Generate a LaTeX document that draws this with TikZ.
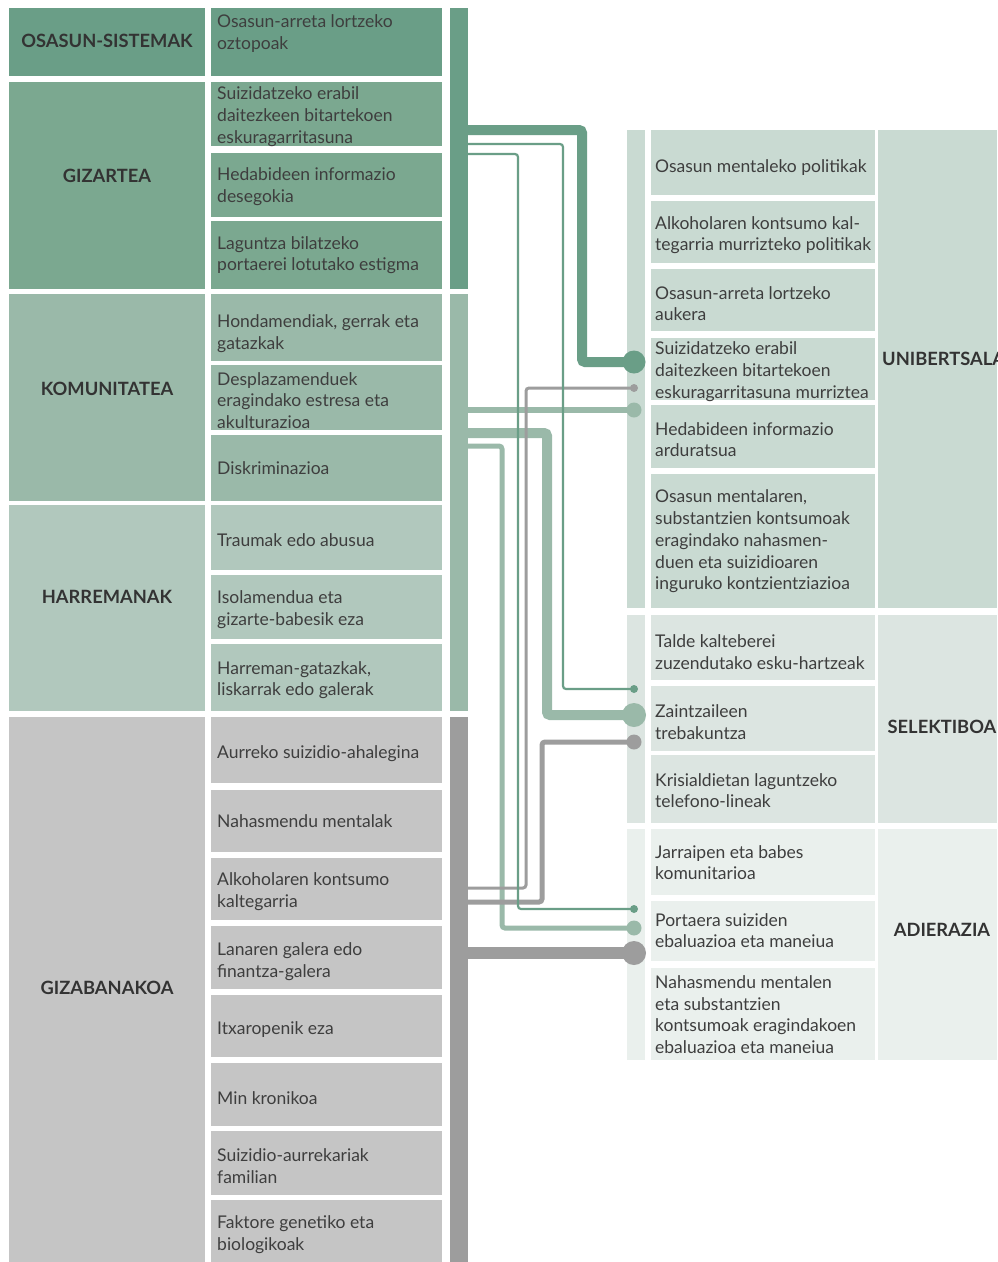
\documentclass[tikz,border=0pt]{standalone}
\usepackage{fontspec}
\setmainfont{Lato}
\definecolor{cA}{HTML}{6A9E87}
\definecolor{cB}{HTML}{7BA890}
\definecolor{cC}{HTML}{9AB9A9}
\definecolor{cD}{HTML}{B1C8BD}
\definecolor{cE}{HTML}{C5C5C5}
\definecolor{cG}{HTML}{9D9D9D}
\definecolor{cU}{HTML}{C9DAD2}
\definecolor{cS}{HTML}{DCE5E1}
\definecolor{cV}{HTML}{EAF0ED}
\definecolor{txt}{HTML}{3E3E3E}
\definecolor{lbl}{HTML}{333333}
\tikzset{
  itemtext/.style={anchor=west, align=left, inner sep=0pt, yshift=-2.5pt, text=txt, font=\fontsize{17.5}{21.7}\selectfont},
  cattext/.style={inner sep=0pt, text=lbl, font=\bfseries\fontsize{18.3}{21}\selectfont},
  dotnode/.style={circle, draw=none, inner sep=0pt},
  conn/.style={draw=#1, rounded corners=3pt},
}
\newcommand\LBox[6]{\fill[#4] (211,#2) rectangle (442,#3); \node[itemtext] (#1) at (217,#5) {#6};}
\newcommand\RBox[6]{\fill[#4] (651,#2) rectangle (875,#3); \node[itemtext] (#1) at (655,#5) {#6};}
\begin{document}
\begin{tikzpicture}[x=1pt,y=-1pt]
\useasboundingbox (0,0) rectangle (997,1262);
\clip (0,0) rectangle (997,1262);
\fill[white] (0,0) rectangle (997,1262);
% ---------- left categories ----------
\fill[cA] (9,8) rectangle (205,76);
\node[cattext] (osa) at (107,41) {OSASUN-SISTEMAK};
\fill[cB] (9,82) rectangle (205,289);
\node[cattext] (giz) at (107,176) {GIZARTEA};
\fill[cC] (9,294) rectangle (205,501);
\node[cattext] (kom) at (107,389) {KOMUNITATEA};
\fill[cD] (9,505) rectangle (205,711);
\node[cattext] (har) at (107,597) {HARREMANAK};
\fill[cE] (9,717) rectangle (205,1262);
\node[cattext] (gzb) at (107,988) {GIZABANAKOA};
% ---------- left items ----------
\LBox{l1}{8}{76}{cA}{31}{Osasun-arreta lortzeko\\oztopoak}
\LBox{l2}{82}{146}{cB}{114}{Suizidatzeko erabil\\daitezkeen bitartekoen\\eskuragarritasuna}
\LBox{l3}{153}{217}{cB}{184}{Hedabideen informazio\\desegokia}
\LBox{l4}{221}{289}{cB}{252.5}{Laguntza bilatzeko\\portaerei lotutako estigma}
\LBox{l5}{294}{361}{cC}{331}{Hondamendiak, gerrak eta\\gatazkak}
\LBox{l6}{365}{430}{cC}{398}{Desplazamenduek\\eragindako estresa eta\\akulturazioa}
\LBox{l7}{435}{501}{cC}{466}{Diskriminazioa}
\LBox{l8}{505}{570}{cD}{538}{Traumak edo abusua}
\LBox{l9}{575}{639}{cD}{607}{Isolamendua eta\\gizarte-babesik eza}
\LBox{l10}{644}{711}{cD}{677.5}{Harreman-gatazkak,\\liskarrak edo galerak}
\LBox{l11}{717}{783}{cE}{751}{Aurreko suizidio-ahalegina}
\LBox{l12}{790}{852}{cE}{819}{Nahasmendu mentalak}
\LBox{l13}{858}{920}{cE}{889}{Alkoholaren kontsumo\\kaltegarria}
\LBox{l14}{926}{989}{cE}{959}{Lanaren galera edo\\finantza-galera}
\LBox{l15}{995}{1057}{cE}{1027}{Itxaropenik eza}
\LBox{l16}{1063}{1126}{cE}{1096}{Min kronikoa}
\LBox{l17}{1131}{1195}{cE}{1163.5}{Suizidio-aurrekariak\\familian}
\LBox{l18}{1200}{1262}{cE}{1232}{Faktore genetiko eta\\biologikoak}
% ---------- left bars ----------
\node[fill=cA, inner sep=0pt, minimum width=18pt, minimum height=281pt] (barA) at (459,148.5) {};
\node[fill=cC, inner sep=0pt, minimum width=18pt, minimum height=417pt] (barB) at (459,502.5) {};
\node[fill=cG, inner sep=0pt, minimum width=18pt, minimum height=545pt] (barC) at (459,989.5) {};
% ---------- right side ----------
\fill[cU] (627,130) rectangle (645,608);
\fill[cS] (627,615) rectangle (645,823);
\fill[cV] (627,829) rectangle (645,1060);
\fill[cU] (878,130) rectangle (997,608);
\fill[cS] (878,615) rectangle (997,823);
\fill[cV] (878,829) rectangle (997,1060);
\RBox{r1}{130}{195}{cU}{165}{Osasun mentaleko politikak}
\RBox{r2}{201}{263}{cU}{232.5}{Alkoholaren kontsumo kal-\\tegarria murrizteko politikak}
\RBox{r3}{269}{331}{cU}{301}{Osasun-arreta lortzeko\\aukera}
\RBox{r4}{338}{400}{cU}{369}{Suizidatzeko erabil\\daitezkeen bitartekoen\\eskuragarritasuna murriztea}
\RBox{r5}{405}{468}{cU}{437}{Hedabideen informazio\\arduratsua}
\RBox{r6}{474}{608}{cU}{539}{Osasun mentalaren,\\substantzien kontsumoak\\eragindako nahasmen-\\duen eta suizidioaren\\inguruko kontzientziazioa}
\RBox{r7}{615}{680}{cS}{649.5}{Talde kalteberei\\zuzendutako esku-hartzeak}
\RBox{r8}{686}{751}{cS}{719.5}{Zaintzaileen\\trebakuntza}
\RBox{r9}{755}{823}{cS}{788}{Krisialdietan laguntzeko\\telefono-lineak}
\RBox{r10}{829}{895}{cV}{860}{Jarraipen eta babes\\komunitarioa}
\RBox{r11}{901}{961}{cV}{928}{Portaera suiziden\\ebaluazioa eta maneiua}
\RBox{r12}{968}{1060}{cV}{1012}{Nahasmendu mentalen\\eta substantzien\\kontsumoak eragindakoen\\ebaluazioa eta maneiua}
\node[cattext, anchor=west] (uni) at (882,359) {UNIBERTSALA};
\node[cattext] (sel) at (942,727) {SELEKTIBOA};
\node[cattext] (adi) at (942,930) {ADIERAZIA};
% ---------- dots (positions) ----------
\node[dotnode, minimum size=23pt] (d1) at (634,362) {};
\node[dotnode, minimum size=8pt] (d2) at (634,388) {};
\node[dotnode, minimum size=15pt] (d3) at (634,410) {};
\node[dotnode, minimum size=8pt] (d4) at (634,689) {};
\node[dotnode, minimum size=24pt] (d5) at (634,715) {};
\node[dotnode, minimum size=15pt] (d6) at (634,742) {};
\node[dotnode, minimum size=8pt] (d7) at (634,909) {};
\node[dotnode, minimum size=15pt] (d8) at (634,928) {};
\node[dotnode, minimum size=24pt] (d9) at (634,953) {};
% ---------- connector start points ----------
\coordinate (s1) at (468,130);
\coordinate (s2) at (468,144);
\coordinate (s3) at (468,154);
\coordinate (s4) at (468,888);
\coordinate (s5) at (468,410);
\coordinate (s6) at (468,433);
\coordinate (s7) at (468,446);
\coordinate (s8) at (468,902);
\coordinate (s9) at (468,953);
% ---------- connectors ----------
\draw[conn=cC, line width=5pt] (s7) -| ([xshift=-132pt]d8.center) -- (d8.center);
\draw[conn=cC, line width=10pt] (s6) -| ([xshift=-87pt]d5.center) -- (d5.center);
\draw[conn=cC, line width=6pt] (s5) -- (d3.center);
\draw[conn=cG, line width=3pt] (s4) -| ([xshift=-108pt]d2.center) -- (d2.center);
\draw[conn=cG, line width=5pt] (s8) -| ([xshift=-92pt]d6.center) -- (d6.center);
\draw[conn=cG, line width=12pt] (s9) -- (d9.center);
\draw[conn=cA, line width=2.2pt] (s3) -| ([xshift=-116pt]d7.center) -- (d7.center);
\draw[conn=cA, line width=2.2pt] (s2) -| ([xshift=-71pt]d4.center) -- (d4.center);
\draw[conn=cA, line width=10pt] (s1) -| ([xshift=-52pt]d1.center) -- (d1.center);
% dots drawn on top of the connectors
\fill[cA] (d1.center) circle[radius=11.5pt];
\fill[cG] (d2.center) circle[radius=4pt];
\fill[cC] (d3.center) circle[radius=7.5pt];
\fill[cA] (d4.center) circle[radius=4pt];
\fill[cC] (d5.center) circle[radius=12pt];
\fill[cG] (d6.center) circle[radius=7.5pt];
\fill[cA] (d7.center) circle[radius=4pt];
\fill[cC] (d8.center) circle[radius=7.5pt];
\fill[cG] (d9.center) circle[radius=12pt];
\end{tikzpicture}
\end{document}
